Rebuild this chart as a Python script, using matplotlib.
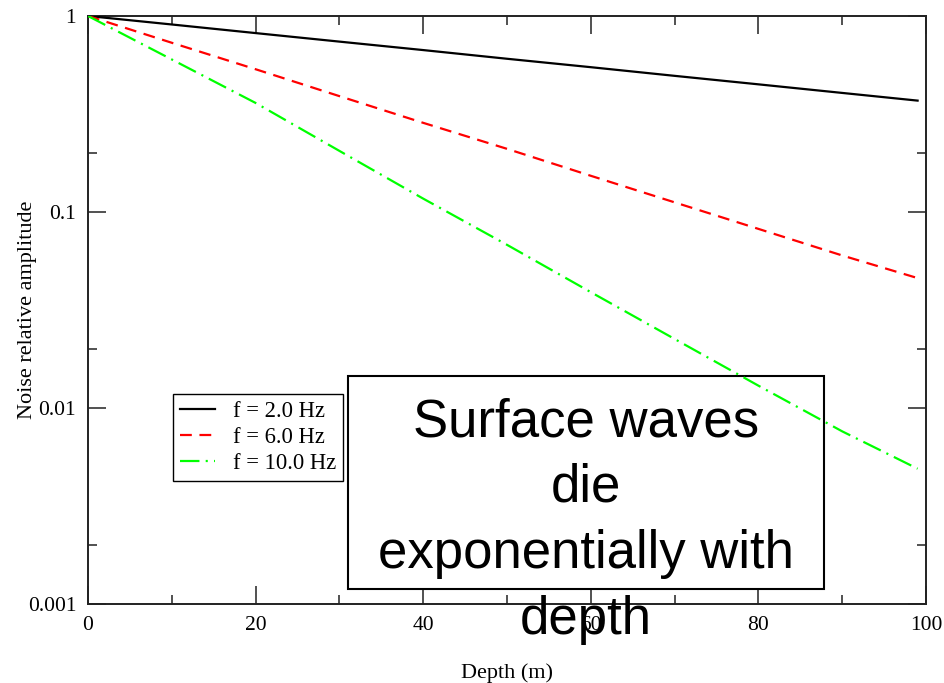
import matplotlib
matplotlib.use("Agg")
import matplotlib.pyplot as plt
from matplotlib.patches import Rectangle
from matplotlib.ticker import FixedLocator, NullFormatter

# values
depth = [0, 10, 20, 30, 40, 50, 60, 70, 80, 90, 99]
amp_2hz = [1.0, 0.905, 0.818, 0.74, 0.67, 0.605, 0.548, 0.495, 0.448, 0.405, 0.37]
amp_6hz = [1.0, 0.73, 0.535, 0.39, 0.285, 0.21, 0.153, 0.112, 0.082, 0.06, 0.046]
amp_10hz = [1.0, 0.60, 0.36, 0.205, 0.117, 0.068, 0.039, 0.0225, 0.013, 0.0076, 0.0049]
labels = ["f = 2.0 Hz", "f = 6.0 Hz", "f = 10.0 Hz"]
x_major = [0, 20, 40, 60, 80, 100]
x_minor = [10, 30, 50, 70, 90]
y_major = [0.001, 0.01, 0.1, 1]
y_major_labels = ["0.001", "0.01", "0.1", "1"]
y_minor = [0.002, 0.02, 0.2]
note = "Surface waves\ndie\nexponentially with\ndepth"

plt.rcParams["font.family"] = ["Liberation Serif", "DejaVu Serif"]
plt.rcParams["lines.scale_dashes"] = False

fig = plt.figure(figsize=(9.44, 6.83), dpi=100)
ax = fig.add_axes([0.0932, 0.1157, 0.8877, 0.8609])

ax.plot(depth, amp_2hz, color="black", linewidth=1.6, label=labels[0], zorder=3)
ax.plot(depth, amp_6hz, color="#ff0000", linewidth=1.6, linestyle=(0, (8.5, 5.5)),
        label=labels[1], zorder=3)
ax.plot(depth, amp_10hz, color="#00ff00", linewidth=1.6,
        linestyle=(0, (14, 4.5, 1.5, 4.5)), label=labels[2], zorder=3)

ax.set_yscale("log")
ax.set_xlim(0, 100)
ax.set_ylim(0.001, 1)

ax.xaxis.set_major_locator(FixedLocator(x_major))
ax.xaxis.set_minor_locator(FixedLocator(x_minor))
ax.yaxis.set_major_locator(FixedLocator(y_major))
ax.set_yticklabels(y_major_labels)
ax.yaxis.set_minor_locator(FixedLocator(y_minor))
ax.yaxis.set_minor_formatter(NullFormatter())

ax.tick_params(which="both", direction="in", top=True, right=True,
               color="#222222", width=1.1, labelsize=15.5, pad=8.5)
ax.tick_params(which="major", length=13)
ax.tick_params(which="minor", length=6.5)
for sp in ax.spines.values():
    sp.set_linewidth(1.4)
    sp.set_color("#222222")

ax.set_xlabel("Depth (m)", fontsize=16)
ax.set_ylabel("Noise relative amplitude", fontsize=16)
ax.xaxis.set_label_coords(0.5, -0.1)
ax.yaxis.set_label_coords(-0.061, 0.5)

leg = ax.legend(loc="upper left", bbox_to_anchor=(0.1014, 0.357), borderaxespad=0,
                fontsize=16.3, handlelength=1.55, handletextpad=0.8, labelspacing=0.22,
                borderpad=0.3, fancybox=False, framealpha=1, edgecolor="black")
leg.get_frame().set_linewidth(1.0)

# annotation box with overflowing text
box = Rectangle((0.3686, 0.1376), 0.5042, 0.3119, transform=fig.transFigure,
                facecolor="white", edgecolor="black", linewidth=1.5,
                clip_on=False, zorder=2.5)
ax.add_patch(box)
ax.text(0.6208, 0.2372, note, transform=fig.transFigure, ha="center", va="center",
        fontsize=38, family=["Liberation Sans", "DejaVu Sans"], linespacing=1.41,
        multialignment="center", zorder=6, clip_on=False)

fig.savefig("out.png", dpi=100)
